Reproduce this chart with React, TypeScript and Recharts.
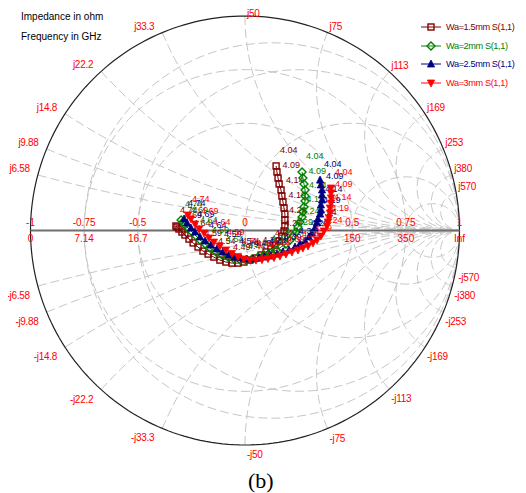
import { ScatterChart, Scatter, XAxis, YAxis, Legend } from 'recharts';

// sweep frequencies (GHz), every other point of the measured sweep
const freqs = [
  4.04, 4.06, 4.08, 4.1, 4.12, 4.14, 4.16, 4.18, 4.2, 4.22, 4.24, 4.26, 4.28, 4.3, 4.32, 4.34, 4.36, 4.38,
  4.4, 4.42, 4.44, 4.46, 4.48, 4.5, 4.52, 4.54, 4.56, 4.58, 4.6, 4.62, 4.64, 4.66, 4.68, 4.7, 4.72, 4.74,
];

// S(1,1) as reflection coefficient, real / imaginary part
const wa15Re = [
  0.145, 0.149, 0.154, 0.159, 0.168, 0.172, 0.177, 0.182, 0.186, 0.186, 0.186, 0.182, 0.172, 0.159, 0.14, 0.121, 0.098, 0.075,
  0.051, 0.023, -0.005, -0.033, -0.061, -0.089, -0.117, -0.145, -0.172, -0.196, -0.219, -0.242, -0.261, -0.28, -0.294, -0.308, -0.317, -0.322,
];
const wa15Im = [
  0.301, 0.273, 0.245, 0.217, 0.189, 0.161, 0.133, 0.105, 0.077, 0.049, 0.021, -0.002, -0.026, -0.049, -0.068, -0.086, -0.1, -0.114,
  -0.128, -0.138, -0.147, -0.152, -0.152, -0.147, -0.138, -0.124, -0.11, -0.096, -0.077, -0.058, -0.04, -0.021, -0.007, 0.007, 0.016, 0.021,
];
const wa2Re = [
  0.266, 0.27, 0.275, 0.28, 0.28, 0.28, 0.275, 0.27, 0.266, 0.256, 0.247, 0.238, 0.224, 0.21, 0.191, 0.168, 0.145, 0.117,
  0.089, 0.061, 0.033, 0.005, -0.023, -0.051, -0.079, -0.107, -0.135, -0.163, -0.186, -0.21, -0.228, -0.247, -0.266, -0.28, -0.289, -0.298,
];
const wa2Im = [
  0.273, 0.245, 0.217, 0.189, 0.161, 0.138, 0.11, 0.086, 0.063, 0.04, 0.016, -0.007, -0.026, -0.044, -0.063, -0.077, -0.091, -0.105,
  -0.114, -0.124, -0.133, -0.138, -0.138, -0.133, -0.124, -0.114, -0.1, -0.082, -0.063, -0.044, -0.026, -0.007, 0.012, 0.026, 0.04, 0.049,
];
const wa25Re = [
  0.35, 0.354, 0.359, 0.359, 0.359, 0.354, 0.354, 0.35, 0.34, 0.336, 0.326, 0.312, 0.298, 0.28, 0.256, 0.233, 0.205, 0.177,
  0.149, 0.121, 0.093, 0.065, 0.037, 0.009, -0.019, -0.047, -0.075, -0.103, -0.131, -0.159, -0.186, -0.21, -0.233, -0.252, -0.27, -0.284,
];
const wa25Im = [
  0.235, 0.212, 0.189, 0.166, 0.142, 0.119, 0.096, 0.077, 0.054, 0.035, 0.012, -0.012, -0.03, -0.049, -0.063, -0.077, -0.091, -0.1,
  -0.11, -0.119, -0.124, -0.128, -0.133, -0.133, -0.128, -0.124, -0.114, -0.1, -0.086, -0.068, -0.049, -0.03, -0.007, 0.012, 0.035, 0.054,
];
const wa3Re = [
  0.401, 0.401, 0.401, 0.401, 0.396, 0.396, 0.392, 0.387, 0.382, 0.368, 0.354, 0.336, 0.317, 0.294, 0.27, 0.247, 0.219, 0.191,
  0.163, 0.135, 0.107, 0.079, 0.051, 0.023, -0.005, -0.033, -0.061, -0.089, -0.117, -0.145, -0.168, -0.191, -0.214, -0.233, -0.252, -0.266,
];
const wa3Im = [
  0.198, 0.175, 0.152, 0.128, 0.105, 0.082, 0.058, 0.04, 0.021, -0.002, -0.026, -0.044, -0.058, -0.072, -0.082, -0.091, -0.1, -0.11,
  -0.119, -0.126, -0.131, -0.136, -0.138, -0.138, -0.133, -0.122, -0.107, -0.091, -0.072, -0.054, -0.035, -0.012, 0.007, 0.03, 0.054, 0.072,
];

const markerFreqs = ['4.04', '4.09', '4.14', '4.19', '4.24', '4.29', '4.34', '4.39', '4.44', '4.49', '4.54', '4.59', '4.64', '4.69', '4.74'];

// smith chart grid (ohm, Z0 = 50)
const Z0 = 50;
const reactances = [6.58, 9.88, 14.8, 22.2, 33.3, 50, 75, 113, 169, 253, 380, 570];
const resistances = [7.14, 16.7, 50, 150, 350];
const gammaRings = [0.5, 0.75];
const gammaTicks = [-1, -0.75, -0.5, 0, 0.5, 0.75, 1];
const gammaTickLabels = ['-1', '-0.75', '-0.5', '0', '0.5', '0.75', '1'];
const resTickLabels = ['0', '7.14', '16.7', '', '150', '350', 'Inf'];

const FONT = 'Arial, "Liberation Sans", Helvetica, sans-serif';
const GRID = '#c6c6c6';

type Pt = { re: number; im: number; text?: string };

const series = [
  { name: 'Wa=1.5mm S(1,1)', color: '#800000', re: wa15Re, im: wa15Im, mark: 'square' },
  { name: 'Wa=2mm S(1,1)', color: '#008000', re: wa2Re, im: wa2Im, mark: 'diamond' },
  { name: 'Wa=2.5mm S(1,1)', color: '#000080', re: wa25Re, im: wa25Im, mark: 'triangle' },
  { name: 'Wa=3mm S(1,1)', color: '#ff0000', re: wa3Re, im: wa3Im, mark: 'down' },
];

const reactanceArc = (x: number): Pt[] => {
  const pts: Pt[] = [];
  for (let k = 0; k <= 90; k++) {
    const r = k === 90 ? 1e6 : Math.tan(((k / 90) * Math.PI) / 2);
    const d = (r + 1) ** 2 + x * x;
    pts.push({ re: (r * r + x * x - 1) / d, im: (2 * x) / d });
  }
  return pts;
};

const circle = (cx: number, rad: number, n = 140): Pt[] => {
  const pts: Pt[] = [];
  for (let k = 0; k <= n; k++) {
    const a = (k / n) * Math.PI * 2;
    pts.push({ re: cx + rad * Math.cos(a), im: rad * Math.sin(a) });
  }
  return pts;
};

const gridCurves: Pt[][] = [
  ...reactances.flatMap((v) => [reactanceArc(v / Z0), reactanceArc(-v / Z0)]),
  ...resistances.map((v) => {
    const r = v / Z0;
    return circle(r / (1 + r), 1 / (1 + r));
  }),
  ...gammaRings.map((g) => circle(0, g)),
];

const rimLabels: Pt[] = reactances.flatMap((v) => {
  const x = v / Z0;
  const d = x * x + 1;
  return [
    { re: (x * x - 1) / d, im: (2 * x) / d, text: `j${v}` },
    { re: (x * x - 1) / d, im: (-2 * x) / d, text: `-j${v}` },
  ];
});

const axisLabels = gammaTicks.map((g, i) => ({ re: g, im: 0, text: gammaTickLabels[i], sub: resTickLabels[i] }));

const toPoints = (re: number[], im: number[]) => re.map((r, i) => ({ re: r, im: im[i], f: freqs[i] }));

const labelPoints = (re: number[], im: number[]): Pt[] =>
  markerFreqs.map((text, k) => {
    const lo = Math.floor(k * 2.5);
    const hi = Math.ceil(k * 2.5);
    return { re: (re[lo] + re[hi]) / 2, im: (im[lo] + im[hi]) / 2, text };
  });

const none = () => <g />;

const markerShape = (mark: string, color: string) => (p: any) => {
  const { cx, cy } = p;
  if (mark === 'square') return <rect x={cx - 3} y={cy - 3} width={6} height={6} fill="none" stroke={color} strokeWidth={1.4} />;
  if (mark === 'diamond')
    return <polygon points={`${cx},${cy - 4} ${cx + 4},${cy} ${cx},${cy + 4} ${cx - 4},${cy}`} fill="none" stroke={color} strokeWidth={1.4} />;
  if (mark === 'triangle')
    return <polygon points={`${cx},${cy - 4} ${cx + 3.6},${cy + 3} ${cx - 3.6},${cy + 3}`} fill={color} stroke={color} strokeWidth={0.8} />;
  return <polygon points={`${cx},${cy + 4} ${cx + 3.6},${cy - 3} ${cx - 3.6},${cy - 3}`} fill={color} stroke={color} strokeWidth={0.8} />;
};

const freqLabel = (color: string) => (p: any) => (
  <text x={p.cx + 4} y={p.cy - 13} fill={color} fontSize={9} fontFamily={FONT}>
    {p.payload.text}
  </text>
);

const rimText = (p: any) => {
  const { re, im, text } = p.payload;
  const anchor = re < -0.02 ? 'end' : 'start';
  // keep the topmost label inside the drawing
  const y = im >= 0 ? Math.max(p.cy - 3, 9) : p.cy + 13;
  return (
    <text x={p.cx + (anchor === 'end' ? -8 : 2)} y={y} textAnchor={anchor} fill="#ff0000" fontSize={10} fontFamily={FONT} letterSpacing={-0.3}>
      {text}
    </text>
  );
};

const axisText = (p: any) => (
  <g>
    <text x={p.cx} y={p.cy - 5} textAnchor="middle" fill="#ff0000" fontSize={10} fontFamily={FONT}>
      {p.payload.text}
    </text>
    <text x={p.cx} y={p.cy + 11} textAnchor="middle" fill="#ff0000" fontSize={10} fontFamily={FONT}>
      {p.payload.sub}
    </text>
  </g>
);

const renderLegend = () => (
  <div style={{ fontFamily: FONT, fontSize: 9.2, letterSpacing: -0.4 }}>
    {series.map((s) => (
      <div key={s.name} style={{ display: 'flex', alignItems: 'center', height: 18.5, color: s.color, whiteSpace: 'nowrap' }}>
        <svg width={22} height={10}>
          <line x1={0} y1={5} x2={20} y2={5} stroke={s.color} />
          {markerShape(s.mark, s.color)({ cx: 10, cy: 5 })}
        </svg>
        <span style={{ marginLeft: 3 }}>{s.name}</span>
      </div>
    ))}
  </div>
);

const overlayText = { position: 'absolute' as const, fontFamily: FONT, fontSize: 10, lineHeight: '12px' };

export default function App() {
  return (
    <div style={{ position: 'relative', width: 510, height: 485 }}>
      <ScatterChart width={510} height={485} margin={{ top: 8, right: 58.5, bottom: 48, left: 22.5 }}>
        <XAxis type="number" dataKey="re" domain={[-1, 1]} hide />
        <YAxis type="number" dataKey="im" domain={[-1, 1]} hide />
        {gridCurves.map((pts, i) => (
          <Scatter
            key={`g${i}`}
            data={pts}
            shape={none}
            line={{ stroke: GRID, strokeWidth: 1, strokeDasharray: '9 4' }}
            isAnimationActive={false}
          />
        ))}
        <Scatter data={circle(0, 1, 240)} shape={none} line={{ stroke: '#222', strokeWidth: 1.2 }} isAnimationActive={false} />
        <Scatter
          data={[{ re: -1, im: 0 }, { re: 1, im: 0 }]}
          shape={none}
          line={{ stroke: '#6f6f6f', strokeWidth: 2 }}
          isAnimationActive={false}
        />
        <Scatter data={rimLabels} shape={rimText} isAnimationActive={false} />
        <Scatter data={axisLabels} shape={axisText} isAnimationActive={false} />
        {series.map((s) => [
          <Scatter
            key={s.name}
            name={s.name}
            data={toPoints(s.re, s.im)}
            shape={markerShape(s.mark, s.color)}
            line={{ stroke: s.color, strokeWidth: 1 }}
            isAnimationActive={false}
          />,
          <Scatter key={`${s.name}-l`} data={labelPoints(s.re, s.im)} shape={freqLabel(s.color)} isAnimationActive={false} />,
        ])}
        <Legend
          layout="horizontal"
          align="center"
          verticalAlign="middle"
          content={renderLegend}
          wrapperStyle={{ top: 10, left: 413, width: 97 }}
        />
      </ScatterChart>
      <div style={{ ...overlayText, left: 13, top: 3 }}>Impedance in ohm</div>
      <div style={{ ...overlayText, left: 13, top: 23 }}>Frequency in GHz</div>
      <div
        style={{
          position: 'absolute',
          left: 240,
          top: 462,
          fontFamily: '"Liberation Serif", "Times New Roman", serif',
          fontSize: 22,
          lineHeight: '22px',
        }}
      >
        (b)
      </div>
    </div>
  );
}
